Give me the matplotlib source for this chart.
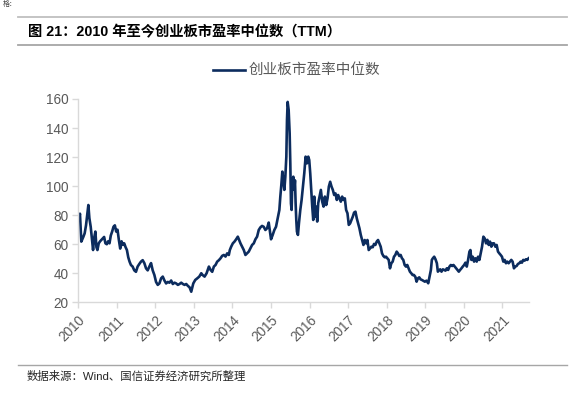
import matplotlib
matplotlib.use("Agg")
import matplotlib.pyplot as plt
from matplotlib.lines import Line2D

plt.rcParams['font.family'] = ['Liberation Sans', 'Noto Sans CJK SC', 'DejaVu Sans']

# decimal-year dates and ChiNext median PE (TTM)
years = [
    2010.000, 2010.017, 2010.043, 2010.078, 2010.130, 2010.165, 2010.200, 2010.235, 2010.261, 2010.287,
    2010.322, 2010.357, 2010.383, 2010.409, 2010.443, 2010.470, 2010.496, 2010.530, 2010.565, 2010.600,
    2010.635, 2010.670, 2010.704, 2010.739, 2010.774, 2010.809, 2010.843, 2010.878, 2010.913, 2010.948,
    2010.983, 2011.017, 2011.052, 2011.087, 2011.122, 2011.157, 2011.191, 2011.226, 2011.261, 2011.296,
    2011.330, 2011.365, 2011.409, 2011.452, 2011.496, 2011.539, 2011.583, 2011.626, 2011.670, 2011.713,
    2011.757, 2011.800, 2011.843, 2011.887, 2011.930, 2011.974, 2012.017, 2012.061, 2012.104, 2012.148,
    2012.191, 2012.235, 2012.278, 2012.322, 2012.365, 2012.409, 2012.452, 2012.496, 2012.539, 2012.583,
    2012.626, 2012.670, 2012.713, 2012.757, 2012.800, 2012.843, 2012.887, 2012.930,
    2012.983, 2013.034, 2013.086, 2013.138, 2013.190, 2013.224, 2013.276, 2013.328, 2013.388, 2013.431,
    2013.474, 2013.517, 2013.560, 2013.603, 2013.647, 2013.690, 2013.733, 2013.776, 2013.819, 2013.862,
    2013.905, 2013.931, 2013.966, 2014.009, 2014.052, 2014.095, 2014.138, 2014.172, 2014.207, 2014.250,
    2014.293, 2014.336, 2014.379, 2014.422, 2014.466, 2014.509, 2014.552, 2014.595, 2014.638, 2014.681,
    2014.724, 2014.767, 2014.810, 2014.853, 2014.897, 2014.940, 2014.966, 2015.000, 2015.043, 2015.086,
    2015.129, 2015.172, 2015.216, 2015.241, 2015.267, 2015.293, 2015.319, 2015.345, 2015.371, 2015.397,
    2015.414, 2015.431, 2015.457, 2015.483, 2015.500, 2015.517, 2015.534, 2015.552, 2015.578, 2015.603,
    2015.621, 2015.638, 2015.655, 2015.672, 2015.698, 2015.724, 2015.759, 2015.793, 2015.828, 2015.862,
    2015.897, 2015.931, 2015.966, 2015.991, 2016.017, 2016.043, 2016.069, 2016.095, 2016.121, 2016.147,
    2016.172, 2016.198, 2016.224, 2016.259, 2016.293, 2016.328, 2016.362, 2016.397, 2016.431, 2016.466,
    2016.500, 2016.534, 2016.569, 2016.603, 2016.638, 2016.672, 2016.707, 2016.741, 2016.776, 2016.810,
    2016.845, 2016.879, 2016.914, 2016.948, 2016.983, 2017.017, 2017.052, 2017.086, 2017.121, 2017.155,
    2017.190, 2017.224, 2017.259, 2017.293, 2017.328, 2017.362, 2017.397, 2017.431, 2017.466, 2017.500,
    2017.534, 2017.569, 2017.603, 2017.638, 2017.672, 2017.707, 2017.741, 2017.776, 2017.810, 2017.845,
    2017.879, 2017.914, 2017.948, 2017.983, 2018.017, 2018.052, 2018.086, 2018.121, 2018.155, 2018.190,
    2018.224, 2018.259, 2018.293, 2018.328, 2018.362, 2018.397, 2018.431, 2018.466, 2018.500, 2018.534,
    2018.569, 2018.603, 2018.638, 2018.672, 2018.707, 2018.741, 2018.776, 2018.810, 2018.845, 2018.879,
    2018.914, 2018.948, 2018.991, 2019.034, 2019.078, 2019.112, 2019.147, 2019.172, 2019.198, 2019.233,
    2019.267, 2019.302, 2019.328, 2019.353, 2019.388, 2019.422, 2019.457, 2019.491, 2019.526, 2019.560,
    2019.595, 2019.629, 2019.664, 2019.698, 2019.733, 2019.767, 2019.802, 2019.836, 2019.871, 2019.905,
    2019.940, 2019.974, 2020.009, 2020.043, 2020.078, 2020.112, 2020.147, 2020.172, 2020.198, 2020.233,
    2020.267, 2020.302, 2020.336, 2020.371, 2020.405, 2020.440, 2020.474, 2020.509, 2020.543, 2020.578,
    2020.612, 2020.647, 2020.681, 2020.716, 2020.750, 2020.784, 2020.819, 2020.853, 2020.888, 2020.922,
    2020.957, 2020.991, 2021.026, 2021.060, 2021.095, 2021.129, 2021.164, 2021.198, 2021.233, 2021.267,
    2021.302, 2021.336, 2021.371, 2021.405, 2021.440, 2021.474, 2021.509, 2021.543, 2021.578, 2021.612,
    2021.647, 2021.681,
]
pe_median = [
    80, 77.7, 81, 61.8, 65, 67.5, 73, 81, 87, 78,
    72, 63, 56, 64, 68.7, 58, 56, 60.6, 62, 63,
    64, 65, 60.6, 60, 62, 60.6, 66, 68.7, 72, 73,
    68.7, 70, 63, 57, 62, 59.5, 60.6, 58, 56, 51,
    48, 45.7, 44.6, 42, 41, 44.6, 46.4, 48, 49, 47,
    43.4, 42, 44.6, 47, 42, 38.8, 34, 32, 33, 36.5,
    37.7, 35, 33, 34, 33.5, 35, 32.6, 33.5, 33, 32,
    32.6, 33.5, 32.6, 32, 32.6, 31.3, 30.3, 27.3,
    33, 35.4, 36.5, 37.7, 40, 38.8, 37.7, 40, 44.6, 42.3,
    41, 44.6, 45.7, 48, 49, 50.3, 52, 52.6, 51.5, 53.7,
    52.6, 56, 58.3, 60.6, 61.8, 63.4, 65.2, 63, 60.6, 58.3,
    56, 52.6, 53.7, 54.9, 57.2, 59.5, 60.6, 63.4, 65.2, 69.8,
    71.6, 72.6, 72, 69.8, 71, 74.9, 69.8, 63.4, 66.4, 69.8,
    72, 77.8, 83.6, 92.8, 100.8, 110, 104, 97.4, 106.5, 120.3,
    145.6, 158, 152.5, 136.4, 115.7, 88, 83.6, 102, 106.5, 97.4,
    104, 88, 76.7, 68.7, 66.4, 74.4, 83.6, 90.5, 99.7, 108.8,
    120.3, 115.7, 120.3, 118, 108.8, 97.4, 85.9, 76.7, 92.8, 79,
    85.9, 75.6, 88.2, 92.8, 97.4, 89.3, 85.9, 92.8, 87, 91.6,
    99.7, 103, 99.7, 97.4, 93.9, 95, 90.5, 93.9, 91.6, 89.3,
    92.8, 90.5, 91.6, 83.6, 81.3, 73.3, 74.4, 76.7, 79, 81.8,
    82.4, 77.9, 74.4, 71, 66.4, 62.9, 59.5, 62.9, 60.6, 62.9,
    56, 57.2, 58.3, 57.9, 60.2, 59.5, 61.8, 62.9, 60.6, 58.3,
    53.7, 51.9, 51, 51.4, 50.3, 49.2, 43.4, 46.9, 48, 51.4,
    52.6, 54.9, 53.7, 51.9, 52.6, 50.3, 49.2, 45.7, 44.6, 45.7,
    43.4, 41.1, 40, 38.8, 38.8, 37.7, 34.2, 36.5, 37.2, 35.8,
    35.4, 34.9, 34.2, 34.9, 33.1, 37.7, 42.3, 49.2, 50.3, 51.4,
    49.6, 46.9, 41.1, 41.8, 42.7, 41.1, 42.7, 42.3, 41.8, 43.4,
    42.3, 44.6, 45.7, 45, 45.7, 44.6, 43.4, 42.3, 41.1, 42.3,
    43.4, 44.6, 45.7, 47.3, 44.6, 49.2, 54.9, 56, 49.2, 51.4,
    48, 50.3, 48, 51.4, 49.2, 53.7, 58.3, 65.2, 64, 60.6,
    63, 59.5, 61.8, 58.3, 60.6, 60.6, 58.3, 59.5, 54.9, 53.7,
    52.6, 51.4, 48, 49.2, 46.9, 48, 46.9, 48, 49.2, 48,
    43.4, 44.6, 45, 46.4, 46.9, 48, 47.3, 49.2, 48.7, 49.6,
    49.2, 50.3,
]
year_ticks = [2010, 2011, 2012, 2013, 2014, 2015, 2016, 2017, 2018, 2019, 2020, 2021]
year_labels = [str(y) for y in year_ticks]
y_ticks = [20, 40, 60, 80, 100, 120, 140, 160]
series_name = "创业板市盈率中位数"
title_text = "图 21：2010 年至今创业板市盈率中位数（TTM）"
source_text = "数据来源：Wind、国信证券经济研究所整理"
cut_text = "格："

W, H = 580, 393
fig = plt.figure(figsize=(W / 100, H / 100), dpi=100)
fig.patch.set_facecolor("white")

line_color = "#0C2C5E"
axis_gray = "#D9D9D9"
label_gray = "#595959"

ax = fig.add_axes([78.3 / W, 1 - 302.3 / H, (529.3 - 78.3) / W, (302.3 - 99.0) / H])
ax.plot(years, pe_median, color=line_color, lw=1.9, solid_joinstyle="round")
ax.set_xlim(2010.0, 2021.70)
ax.set_ylim(20, 160)
ax.set_yticks(y_ticks)
ax.set_yticklabels([str(v) for v in y_ticks])
ax.set_xticks(year_ticks)
ax.set_xticklabels(year_labels, rotation=45, ha="right", rotation_mode="anchor")
for s in ["top", "right"]:
    ax.spines[s].set_visible(False)
for s in ["left", "bottom"]:
    ax.spines[s].set_color(axis_gray)
    ax.spines[s].set_linewidth(1.0)
ax.tick_params(axis="both", colors=axis_gray, length=4, width=1.0, labelsize=9.8,
               labelcolor=label_gray, pad=3)
ax.tick_params(axis="x", pad=4)

# small leftover text from the previous page section, top-left corner
fig.text(3 / W, 1 - 0.5 / H, cut_text, fontsize=5, color="#404040", va="top", ha="left")

# title block with rules
fig.add_artist(Line2D([18 / W, 567 / W], [1 - 17.3 / H] * 2, color="#BFBFBF", lw=1.3))
fig.add_artist(Line2D([18 / W, 567 / W], [1 - 45 / H] * 2, color="#A6A6A6", lw=1.3))
fig.text(28 / W, 1 - 32 / H, title_text, fontsize=10.3, fontweight="bold",
         color="black", va="center", ha="left")

# legend
fig.add_artist(Line2D([213 / W, 245 / W], [1 - 70 / H] * 2, color=line_color, lw=1.9))
fig.text(249 / W, 1 - 70 / H, series_name, fontsize=10.5, color=label_gray,
         va="center", ha="left", family=["Noto Sans CJK SC"])

# footer
fig.add_artist(Line2D([18 / W, 567 / W], [1 - 365 / H] * 2, color="#A6A6A6", lw=1.0))
fig.text(27 / W, 1 - 376 / H, source_text, fontsize=8.2, color="#262626",
         va="center", ha="left")

fig.savefig("out.png", dpi=100, facecolor="white")
